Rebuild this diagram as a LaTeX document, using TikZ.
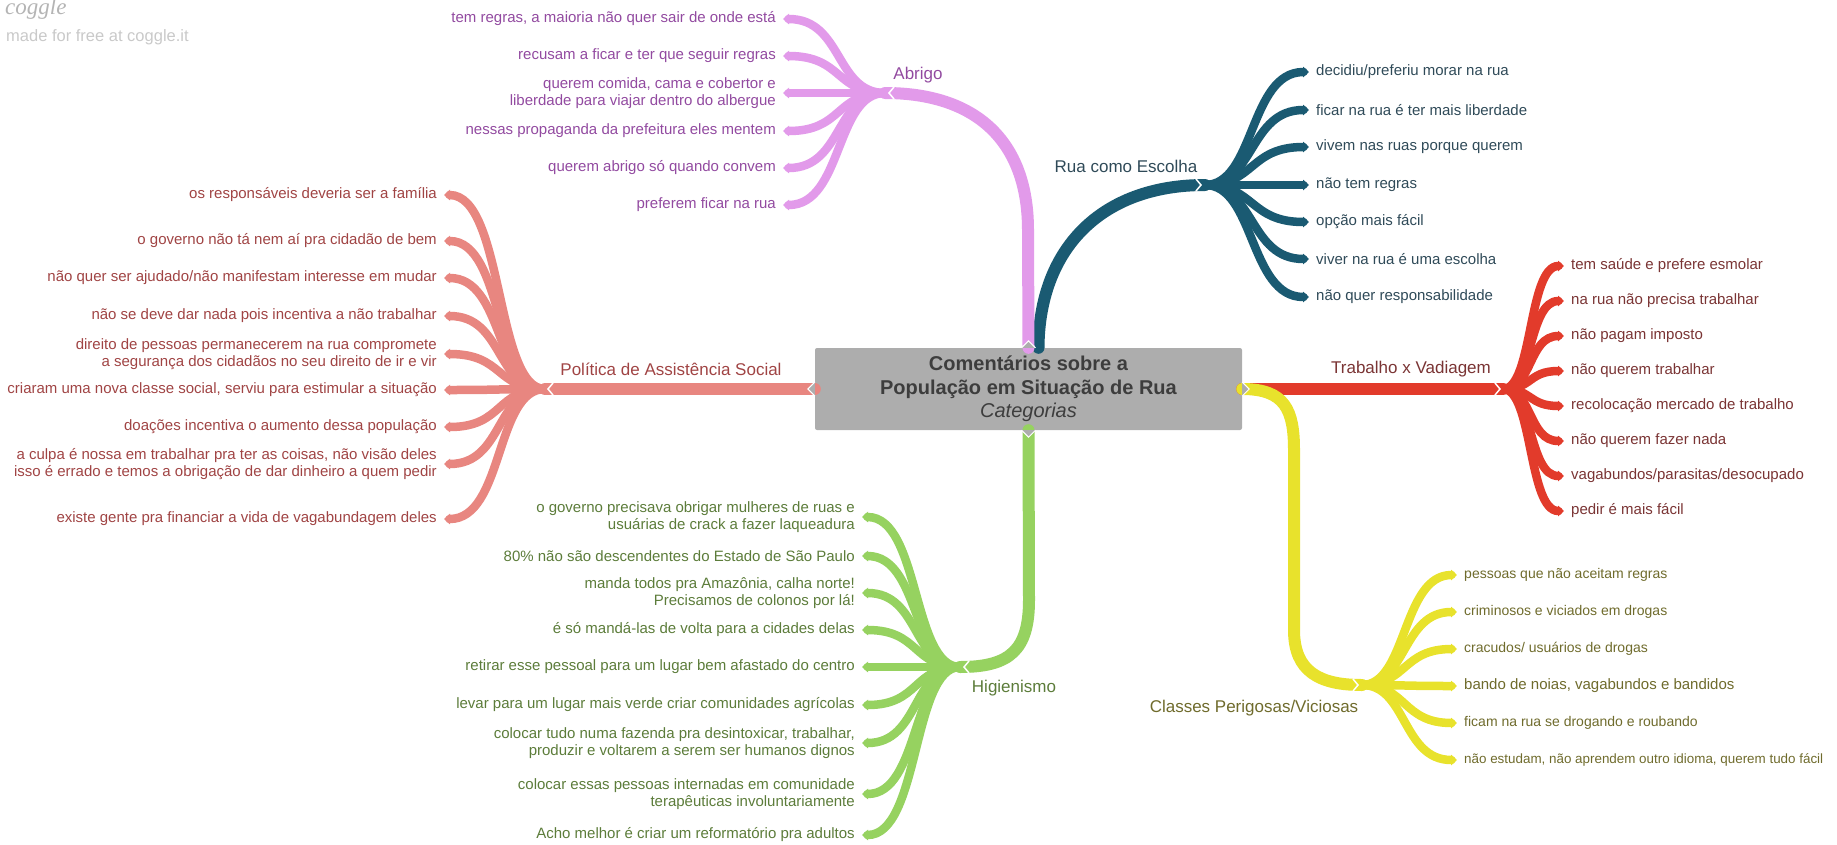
\documentclass[tikz,border=0pt]{standalone}
\usepackage{fontspec}
\setmainfont{Liberation Sans}
\newfontfamily\logofont{Liberation Serif}
\usetikzlibrary{arrows.meta}
\definecolor{abrL}{HTML}{E29AEA}\definecolor{abrT}{HTML}{924AA0}
\definecolor{ruaL}{HTML}{1A5A72}\definecolor{ruaT}{HTML}{2F4A58}
\definecolor{traL}{HTML}{E23B2B}\definecolor{traT}{HTML}{7A3434}
\definecolor{claL}{HTML}{E8E22C}\definecolor{claT}{HTML}{6F6B2C}
\definecolor{polL}{HTML}{E88680}\definecolor{polT}{HTML}{A04444}
\definecolor{higL}{HTML}{96D260}\definecolor{higT}{HTML}{5C7C3A}
\definecolor{boxG}{HTML}{ADADAD}\definecolor{boxT}{HTML}{3D3D3D}
\definecolor{logoG}{HTML}{B4B4B4}\definecolor{madeG}{HTML}{C9C9C9}
\begin{document}
\begin{tikzpicture}[x=1pt,y=-1pt,
  lf/.style={font=\fontsize{15}{17.5}\selectfont, inner xsep=7pt, inner ysep=1pt},
  leafL/.style={lf, anchor=east, align=right},
  leafR/.style={lf, anchor=west, align=left},
  lab/.style={font=\fontsize{17}{20}\selectfont, inner sep=1pt},
  mainbr/.style={line width=12pt, line cap=round},
  lk/.style={line width=8.5pt, line cap=round, -{Triangle[length=6pt,width=10.5pt]}},
  notch/.style={draw=white, line width=1.5pt},
  boxtip/.style={fill=boxG, draw=white, line width=1pt}
]
\useasboundingbox (0,0) rectangle (1837,844);

% logo
\node[anchor=west, text=logoG, font=\logofont\itshape\fontsize{23}{23}\selectfont, inner sep=0pt] (logo) at (5,9) {coggle};
\node[anchor=west, text=madeG, font=\fontsize{16.5}{18}\selectfont, inner sep=0pt] (made) at (6,37) {made for free at coggle.it};

% central node
\node[fill=boxG, rounded corners=2pt, minimum width=427pt, minimum height=82pt, inner sep=0pt,
      align=center, text=boxT, font=\fontsize{20}{23.5}\selectfont] (ctr) at (1028.5,389)
  {\textbf{Comentários sobre a}\\\textbf{População em Situação de Rua}\\\textit{Categorias}};

% hubs
\coordinate (hA) at (885,93);
\coordinate (hR) at (1205,185);
\coordinate (hT) at (1503,389);
\coordinate (hC) at (1362,685);
\coordinate (hP) at (545,389);
\coordinate (hH) at (960,667);

% main branches
\draw[mainbr, ruaL] ([xshift=10pt]ctr.north) .. controls (1039,250) and (1100,185) .. (hR);
\draw[mainbr, abrL] (ctr.north) -- (1028,230) .. controls (1028,140) and (975,93) .. (hA);
\draw[mainbr, traL] (ctr.east) -- (hT);
\draw[mainbr, claL] (ctr.east) .. controls (1285,389) and (1294,410) .. (1294,450) -- (1294,630) .. controls (1294,672) and (1320,685) .. (hC);
\draw[mainbr, polL] (ctr.west) -- (hP);
\draw[mainbr, higL] (ctr.south) -- (1029,600) .. controls (1029,650) and (1010,667) .. (hH);

% branch labels
\node[lab, text=abrT] (lA) at (918,75) {Abrigo};
\node[lab, text=ruaT] (lR) at (1126,166) {Rua como Escolha};
\node[lab, text=traT] (lT) at (1411,369) {Trabalho x Vadiagem};
\node[lab, text=claT] (lC) at (1254,708) {Classes Perigosas/Viciosas};
\node[lab, text=polT] (lP) at (671,369) {Política de Assistência Social};
\node[lab, text=higT] (lH) at (1014,688) {Higienismo};

% Abrigo leaves
\begin{scope}[every node/.style={leafL, text=abrT}]
\node (a1) at (783,19) {tem regras, a maioria não quer sair de onde está};
\node (a2) at (783,56) {recusam a ficar e ter que seguir regras};
\node (a3) at (783,93) {querem comida, cama e cobertor e\\liberdade para viajar dentro do albergue};
\node (a4) at (783,131) {nessas propaganda da prefeitura eles mentem};
\node (a5) at (783,168) {querem abrigo só quando convem};
\node (a6) at (783,205) {preferem ficar na rua};
\end{scope}
\foreach \i in {1,...,6} \draw[lk, abrL] (hA) .. controls +(-50,0) and +(60,0) .. (a\i.east);

% Politica leaves
\begin{scope}[every node/.style={leafL, text=polT}]
\node (p1) at (444,195) {os responsáveis deveria ser a família};
\node (p2) at (444,241) {o governo não tá nem aí pra cidadão de bem};
\node (p3) at (444,278) {não quer ser ajudado/não manifestam interesse em mudar};
\node (p4) at (444,316) {não se deve dar nada pois incentiva a não trabalhar};
\node (p5) at (444,354) {direito de pessoas permanecerem na rua compromete\\a segurança dos cidadãos no seu direito de ir e vir};
\node (p6) at (444,390) {criaram uma nova classe social, serviu para estimular a situação};
\node (p7) at (444,427) {doações incentiva o aumento dessa população};
\node (p8) at (444,464) {a culpa é nossa em trabalhar pra ter as coisas, não visão deles\\isso é errado e temos a obrigação de dar dinheiro a quem pedir};
\node (p9) at (444,519) {existe gente pra financiar a vida de vagabundagem deles};
\end{scope}
\foreach \i in {1,...,9} \draw[lk, polL] (hP) .. controls +(-50,0) and +(60,0) .. (p\i.east);

% Higienismo leaves
\begin{scope}[every node/.style={leafL, text=higT}]
\node (h1) at (862,517) {o governo precisava obrigar mulheres de ruas e\\usuárias de crack a fazer laqueadura};
\node (h2) at (862,556) {80\% não são descendentes do Estado de São Paulo};
\node (h3) at (862,593) {manda todos pra Amazônia, calha norte!\\Precisamos de colonos por lá!};
\node (h4) at (862,630) {é só mandá-las de volta para a cidades delas};
\node (h5) at (862,667) {retirar esse pessoal para um lugar bem afastado do centro};
\node (h6) at (862,705) {levar para um lugar mais verde criar comunidades agrícolas};
\node (h7) at (862,743) {colocar tudo numa fazenda pra desintoxicar, trabalhar,\\produzir e voltarem a serem ser humanos dignos};
\node (h8) at (862,794) {colocar essas pessoas internadas em comunidade\\terapêuticas involuntariamente};
\node (h9) at (862,835) {Acho melhor é criar um reformatório pra adultos};
\end{scope}
\foreach \i in {1,...,9} \draw[lk, higL] (hH) .. controls +(-48,0) and +(58,0) .. (h\i.east);

% Rua leaves
\begin{scope}[every node/.style={leafR, text=ruaT}]
\node (r1) at (1309,72) {decidiu/preferiu morar na rua};
\node (r2) at (1309,110) {ficar na rua é ter mais liberdade};
\node (r3) at (1309,147) {vivem nas ruas porque querem};
\node (r4) at (1309,185) {não tem regras};
\node (r5) at (1309,222) {opção mais fácil};
\node (r6) at (1309,259) {viver na rua é uma escolha};
\node (r7) at (1309,297) {não quer responsabilidade};
\end{scope}
\foreach \i in {1,...,7} \draw[lk, ruaL] (hR) .. controls +(50,0) and +(-60,0) .. (r\i.west);

% Trabalho leaves
\begin{scope}[every node/.style={leafR, text=traT}]
\node (t1) at (1564,266) {tem saúde e prefere esmolar};
\node (t2) at (1564,301) {na rua não precisa trabalhar};
\node (t3) at (1564,336) {não pagam imposto};
\node (t4) at (1564,371) {não querem trabalhar};
\node (t5) at (1564,406) {recolocação mercado de trabalho};
\node (t6) at (1564,441) {não querem fazer nada};
\node (t7) at (1564,476) {vagabundos/parasitas/desocupado};
\node (t8) at (1564,511) {pedir é mais fácil};
\end{scope}
\foreach \i in {1,...,8} \draw[lk, traL] (hT) .. controls +(30,0) and +(-36,0) .. (t\i.west);

% Classes leaves
\begin{scope}[every node/.style={leafR, text=claT, font=\fontsize{14}{16}\selectfont}]
\node (k1) at (1457,575) {pessoas que não aceitam regras};
\node (k2) at (1457,612) {criminosos e viciados em drogas};
\node (k3) at (1457,649) {cracudos/ usuários de drogas};
\node[font=\fontsize{15}{17}\selectfont] (k4) at (1457,686) {bando de noias, vagabundos e bandidos};
\node (k5) at (1457,723) {ficam na rua se drogando e roubando};
\node[font=\fontsize{13.4}{16}\selectfont] (k6) at (1457,760) {não estudam, não aprendem outro idioma, querem tudo fácil};
\end{scope}
\foreach \i in {1,...,6} \draw[lk, claL] (hC) .. controls +(45,0) and +(-55,0) .. (k\i.west);

% notches at hubs
\draw[notch] ([xshift=9pt,yshift=6pt]hA) -- ([xshift=4pt]hA) -- ([xshift=9pt,yshift=-6pt]hA);
\draw[notch] ([xshift=9pt,yshift=6pt]hH) -- ([xshift=4pt]hH) -- ([xshift=9pt,yshift=-6pt]hH);
\draw[notch] ([xshift=8pt,yshift=6pt]hP) -- ([xshift=3pt]hP) -- ([xshift=8pt,yshift=-6pt]hP);
\draw[notch] ([xshift=-9pt,yshift=6pt]hR) -- ([xshift=-4pt]hR) -- ([xshift=-9pt,yshift=-6pt]hR);
\draw[notch] ([xshift=-8pt,yshift=6pt]hT) -- ([xshift=-3pt]hT) -- ([xshift=-8pt,yshift=-6pt]hT);
\draw[notch] ([xshift=-9pt,yshift=6pt]hC) -- ([xshift=-4pt]hC) -- ([xshift=-9pt,yshift=-6pt]hC);

% small tips on the central box
\filldraw[boxtip] ([xshift=-7pt]ctr.north) -- ([yshift=7pt]ctr.north) -- ([xshift=7pt]ctr.north);
\filldraw[boxtip] ([xshift=-7pt]ctr.south) -- ([yshift=-7pt]ctr.south) -- ([xshift=7pt]ctr.south);
\filldraw[boxtip] ([yshift=7pt]ctr.west) -- ([xshift=-7pt]ctr.west) -- ([yshift=-7pt]ctr.west);
\filldraw[boxtip] ([yshift=7pt]ctr.east) -- ([xshift=7pt]ctr.east) -- ([yshift=-7pt]ctr.east);
\end{tikzpicture}
\end{document}
